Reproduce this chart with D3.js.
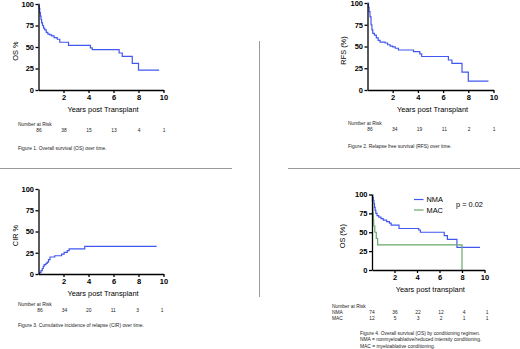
<!DOCTYPE html>
<html>
<head>
    <script src="https://cdnjs.cloudflare.com/ajax/libs/d3/7.8.5/d3.min.js"></script>
    <style>
        body { margin: 0; background: #fff; }
        svg { display: block; font-family: "Liberation Sans", Arial, sans-serif; }
        .axis path, .axis line { stroke: #000; stroke-width: 1.3px; }
        .axis text { font-size: 7.5px; font-weight: bold; fill: #000; }
        .title { font-size: 7.4px; fill: #000; }
        .small { font-size: 4.9px; fill: #222; }
        .sep { stroke: #999; stroke-width: 1px; }
    </style>
</head>
<body>
    <div id="chart"></div>
    <script>
        const width = 520, height = 349;
        const blue = "#4158f0", green = "#6aa86a";

        // step curves (years, percent)
        const osT  = [0, 0.05, 0.1, 0.15, 0.2, 0.25, 0.32, 0.4, 0.5, 0.62, 0.75, 0.9, 1.05, 1.25, 1.5, 1.7, 2.4, 4.15, 4.3, 6.45, 6.7, 7.5, 8.0, 9.65];
        const osS  = [100, 95, 90, 86, 82, 78, 75, 72, 70, 67, 65, 64, 63, 61, 59, 55.5, 52, 49, 47, 43, 39, 31, 23, 23];

        const rfsT = [0, 0.08, 0.13, 0.2, 0.28, 0.35, 0.42, 0.55, 0.7, 0.85, 1.0, 1.4, 1.6, 1.8, 2.0, 2.2, 2.45, 3.65, 4.15, 4.3, 6.42, 6.7, 7.5, 8.0, 9.6];
        const rfsS = [100, 95, 90, 84, 75, 69, 65, 63, 60, 57, 55, 54, 52, 50.5, 49.5, 48, 46, 44, 41.5, 38.5, 34.5, 30.5, 20.5, 10.3, 10.3];

        const cirT = [0, 0.1, 0.2, 0.3, 0.38, 0.45, 0.6, 0.7, 0.8, 0.92, 1.3, 1.85, 2.05, 2.3, 2.45, 3.7, 9.45];
        const cirS = [0, 2, 4, 6.5, 9, 11, 12.5, 14, 17, 20, 21.5, 23.5, 25.5, 27.5, 29.5, 32.5, 32.5];

        const nmaT = [0, 0.07, 0.12, 0.17, 0.22, 0.28, 0.34, 0.45, 0.6, 0.8, 1.0, 1.3, 1.55, 1.7, 2.4, 4.15, 4.3, 6.42, 6.7, 7.55, 9.6];
        const nmaS = [100, 96, 92, 88, 83, 79, 75, 72, 70, 68, 66, 64, 62, 59.5, 55, 53, 50, 45.5, 40.5, 30, 30];

        const macT = [0, 0.03, 0.06, 0.09, 0.12, 0.15, 0.25, 0.38, 0.5, 8.0];
        const macS = [100, 91.7, 83.3, 75, 66.7, 58.3, 50, 41.7, 33.3, 0];

        // number at risk
        const riskTimes = [0, 2, 4, 6, 8, 10];
        const osRisk  = [86, 38, 15, 13, 4, 1];
        const rfsRisk = [86, 34, 19, 11, 2, 1];
        const cirRisk = [86, 34, 20, 11, 3, 1];
        const nmaRisk = [74, 36, 22, 12, 4, 1];
        const macRisk = [12, 5, 3, 2, 1, 1];

        const xTicks = [2, 4, 6, 8, 10];
        const yTicks = [0, 25, 50, 75, 100];

        const zip = (t, s) => t.map((d, i) => [d, s[i]]);

        const svg = d3.select("#chart").append("svg").attr("width", width).attr("height", height);

        // separators
        svg.append("line").attr("class", "sep").attr("x1", 0).attr("x2", 232).attr("y1", 168.5).attr("y2", 168.5);
        svg.append("line").attr("class", "sep").attr("x1", 288).attr("x2", 520).attr("y1", 168.5).attr("y2", 168.5);
        svg.append("line").attr("class", "sep").attr("x1", 259.5).attr("x2", 259.5).attr("y1", 41).attr("y2", 297);

        function panel(p) {
            const x = d3.scaleLinear().domain([0, 10]).range([p.x0, p.x1]);
            const y = d3.scaleLinear().domain([0, 100]).range([p.y0, p.y1]);
            const g = svg.append("g");

            const line = d3.line().x(d => x(d[0])).y(d => y(d[1])).curve(d3.curveStepAfter);
            p.series.forEach(s => {
                g.append("path").datum(s.data)
                    .attr("fill", "none").attr("stroke", s.color).attr("stroke-width", 1.2)
                    .attr("d", line);
            });

            g.append("g").attr("class", "axis").attr("transform", `translate(0,${p.y0})`)
                .call(d3.axisBottom(x).tickValues(xTicks).tickSize(3).tickPadding(2).tickSizeOuter(0));
            g.append("g").attr("class", "axis").attr("transform", `translate(${p.x0},0)`)
                .call(d3.axisLeft(y).tickValues(yTicks).tickSize(3).tickPadding(1.5).tickSizeOuter(0));

            g.append("text").attr("class", "title").attr("text-anchor", "middle")
                .attr("x", (p.x0 + p.x1) / 2 + 2).attr("y", p.y0 + 22).text(p.xTitle);
            g.append("text").attr("class", "title").attr("text-anchor", "middle")
                .attr("transform", `translate(${p.yTitleX},${(p.y0 + p.y1) / 2 + 4}) rotate(-90)`)
                .text(p.yTitle);

            // risk table
            const rx = d3.scaleLinear().domain([0, 10]).range(p.riskRange);
            g.append("text").attr("class", "small").attr("x", p.riskLabelX).attr("y", p.riskY).text("Number at Risk");
            p.riskRows.forEach((r, i) => {
                const yy = p.riskY + 6 + i * 6;
                if (r.label) g.append("text").attr("class", "small").attr("x", p.riskLabelX).attr("y", yy).text(r.label);
                g.selectAll(null).data(riskTimes).enter().append("text")
                    .attr("class", "small").attr("text-anchor", "middle")
                    .attr("x", d => rx(d)).attr("y", yy)
                    .text((d, j) => r.values[j]);
            });
            p.caption.forEach((c, i) => {
                g.append("text").attr("class", "small").attr("x", p.capX).attr("y", p.capY + i * 6.5).text(c);
            });
            return { g, x, y };
        }

        panel({
            x0: 38.5, x1: 163.5, y0: 90, y1: 4, yTitle: "OS %", yTitleX: 18,
            xTitle: "Years post Transplant",
            series: [{ data: zip(osT, osS), color: blue }],
            riskLabelX: 18, riskY: 125.5, riskRange: [39, 164],
            riskRows: [{ values: osRisk }],
            capX: 18, capY: 149.5, caption: ["Figure 1. Overall survival (OS) over time."]
        });

        panel({
            x0: 367.5, x1: 493.5, y0: 90, y1: 3, yTitle: "RFS (%)", yTitleX: 346,
            xTitle: "Years post Transplant",
            series: [{ data: zip(rfsT, rfsS), color: blue }],
            riskLabelX: 348, riskY: 124.5, riskRange: [370, 494],
            riskRows: [{ values: rfsRisk }],
            capX: 348, capY: 147.5, caption: ["Figure 2. Relapse free survival (RFS) over time."]
        });

        panel({
            x0: 38.5, x1: 163.5, y0: 274, y1: 189, yTitle: "CIR %", yTitleX: 18,
            xTitle: "Years post Transplant",
            series: [{ data: zip(cirT, cirS), color: blue }],
            riskLabelX: 18, riskY: 305.5, riskRange: [40, 162],
            riskRows: [{ values: cirRisk }],
            capX: 18, capY: 326.5, caption: ["Figure 3. Cumulative incidence of relapse (CIR) over time."]
        });

        const p4 = panel({
            x0: 372, x1: 484.5, y0: 270, y1: 194.5, yTitle: "OS (%)", yTitleX: 345,
            xTitle: "Years post transplant",
            series: [{ data: zip(nmaT, nmaS), color: blue }, { data: zip(macT, macS), color: green }],
            riskLabelX: 332, riskY: 308, riskRange: [372, 487],
            riskRows: [{ label: "NMA", values: nmaRisk }, { label: "MAC", values: macRisk }],
            capX: 360, capY: 334.5, caption: [
                "Figure 4. Overall survival (OS) by conditioning regimen.",
                "NMA = nonmyeloablative/reduced intensity conditioning.",
                "MAC = myeloablative conditioning."]
        });

        // legend + p value
        const legend = [{ name: "NMA", color: blue }, { name: "MAC", color: green }];
        legend.forEach((d, i) => {
            const yy = 199.5 + i * 10.5;
            p4.g.append("line").attr("x1", 414).attr("x2", 423.5).attr("y1", yy).attr("y2", yy)
                .attr("stroke", d.color).attr("stroke-width", 1.2);
            p4.g.append("text").attr("class", "title").attr("x", 426.5).attr("y", yy + 2.6).text(d.name);
        });
        p4.g.append("text").attr("class", "title").attr("x", 456).attr("y", 206.5).text("p = 0.02");
    </script>
</body>
</html>
